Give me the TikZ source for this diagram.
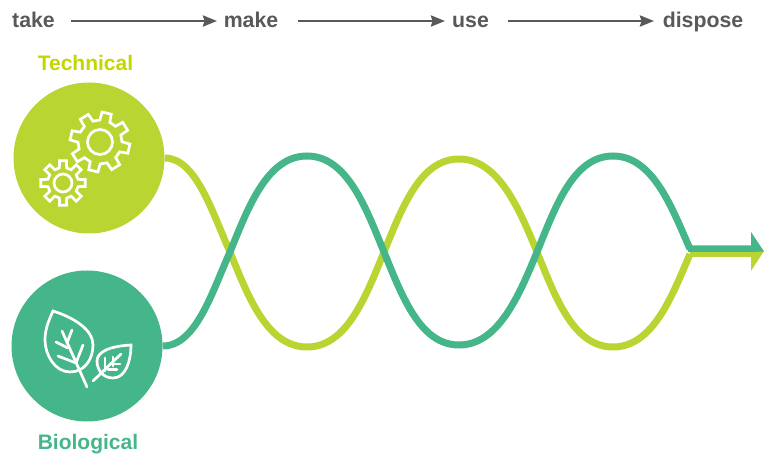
\documentclass[tikz,border=0pt]{standalone}
\usepackage{fontspec}
\setmainfont{Liberation Sans}
\usetikzlibrary{arrows.meta,calc}
\definecolor{lime}{HTML}{B9D532}
\definecolor{limetext}{HTML}{C4D600}
\definecolor{teal}{HTML}{45B58A}
\definecolor{ink}{HTML}{58595B}
\newcommand{\gearshape}[6]{% cx cy outer root teeth phase
  \pgfmathsetmacro{\st}{360/#5}
  \pgfmathsetmacro{\lastt}{#5-1}
  \draw[icon,miter limit=4,line join=miter] ($(#1,#2)+(#6-0.30*\st:#4)$)
  \foreach \i in {0,...,\lastt} {
    -- ($(#1,#2)+(#6+\i*\st-0.20*\st:#3)$)
    -- ($(#1,#2)+(#6+\i*\st+0.20*\st:#3)$)
    -- ($(#1,#2)+(#6+\i*\st+0.30*\st:#4)$)
    -- ($(#1,#2)+(#6+\i*\st+0.70*\st:#4)$)
  } -- cycle;
}
\tikzset{
  step label/.style={font=\bfseries\fontsize{21.3}{25}\selectfont,text=ink,inner sep=0pt,anchor=base},
  group label/.style={font=\bfseries\fontsize{21}{25}\selectfont,inner sep=0pt,anchor=base},
  flow/.style={draw=ink,line width=2.6pt,-{Stealth[length=14pt,width=11pt,inset=1.5pt]}},
  disc/.style={circle,inner sep=0pt,minimum size=151pt},
  wave/.style={line width=7pt,line cap=butt},
  icon/.style={draw=white,line width=2.7pt,line cap=round,line join=round},
}
\begin{document}
\begin{tikzpicture}[x=1pt,y=-1pt]
\useasboundingbox (0,0) rectangle (764,454);
% step labels
\node[step label] (take) at (33.5,28) {take};
\node[step label] (make) at (251,28) {make};
\node[step label] (use) at (470.5,28) {use};
\node[step label] (dispose) at (703,28) {dispose};
\coordinate (ta) at (71,21); \coordinate (tb) at (217,21);
\coordinate (ma) at (298,21); \coordinate (mb) at (445,21);
\coordinate (ua) at (508,21); \coordinate (ub) at (654,21);
\draw[flow] (ta) -- (tb);
\draw[flow] (ma) -- (mb);
\draw[flow] (ua) -- (ub);
% discs
\node[disc,fill=lime] (tech) at (89,158) {};
\node[disc,fill=teal] (bio) at (87,346) {};
\node[group label,text=limetext] (techl) at (85.5,71) {Technical};
\node[group label,text=teal] (biol) at (88,450) {Biological};
% waves
\draw[wave,draw=lime,line join=miter] (tech.east)
  .. controls (196,158) and (212,212) .. (230,252)
  .. controls (248,296) and (267,347) .. (307,347)
  .. controls (347,347) and (366,296) .. (384,252)
  .. controls (402,208) and (420,159) .. (459,159)
  .. controls (498,159) and (519,208) .. (537,252)
  .. controls (555,296) and (573,347) .. (613,347)
  .. controls (653,347) and (672,296) .. (690,254);
\fill[lime] (690,251) rectangle (751,257) (751,251) -- (764,251) -- (751,271) -- cycle;
\draw[wave,draw=teal,line join=miter] (bio.east)
  .. controls (196,346) and (212,292) .. (230,252)
  .. controls (248,208) and (267,156) .. (307,156)
  .. controls (347,156) and (366,208) .. (384,252)
  .. controls (402,296) and (420,345) .. (459,345)
  .. controls (498,345) and (519,296) .. (537,252)
  .. controls (555,208) and (573,156) .. (613,156)
  .. controls (653,156) and (672,208) .. (690,249);
\fill[teal] (688,245.5) rectangle (751,252) (751,232) -- (764,251.5) -- (751,252) -- cycle;
% gears
\gearshape{100}{142}{30}{22}{8}{-77}
\draw[icon] (100,142) circle (12.5);
\gearshape{63}{183}{22.5}{15.5}{8}{0}
\draw[icon] (63,183) circle (9);
% big leaf
\draw[icon,line join=miter] (53,311) .. controls (75,318) and (93,330) .. (93,345)
  .. controls (93,360) and (84,372) .. (70,372)
  .. controls (55,372) and (45,355) .. (45,340)
  .. controls (45,330) and (48,322) .. (53,311) -- cycle;
\draw[icon] (62,331) -- (87,387);
\draw[icon] (56,342) -- (68,348);
\draw[icon] (72,330) -- (67,343);
\draw[icon] (58,356) -- (76,363);
\draw[icon] (83,345) -- (76,363);
% small leaf
\draw[icon,line join=miter] (131,345) .. controls (131,360) and (126,378) .. (113,378)
  .. controls (103,378) and (97,370) .. (97,361)
  .. controls (97,351) and (112,346) .. (131,345) -- cycle;
\draw[icon] (93,381) -- (121,354);
\draw[icon] (105,358) -- (105,371);
\draw[icon] (108,369.5) -- (117,369.5);
\draw[icon] (113,357) -- (113,366);
\draw[icon] (113,364) -- (120,364);
\end{tikzpicture}
\end{document}
